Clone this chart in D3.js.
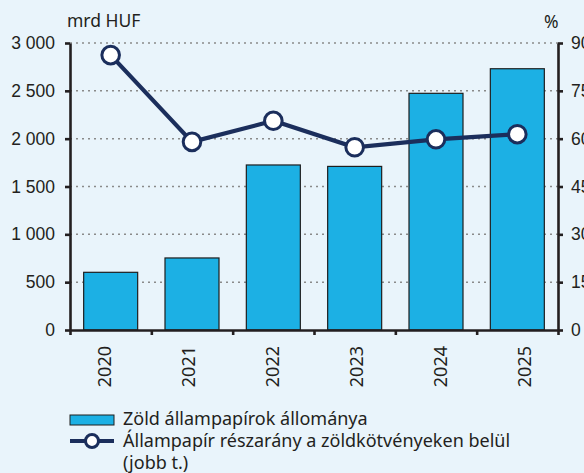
<!DOCTYPE html>
<html>
<head>
<meta charset="utf-8">
<script src="https://cdn.jsdelivr.net/npm/d3@7"></script>
<style>
  body { margin: 0; background: #e9f4fb; }
  svg { display: block; font-family: "Noto Sans", sans-serif; }
  .axis text { font-size: 17.5px; fill: #231f20; }
</style>
</head>
<body>
<div id="container"></div>
<script>
const width = 584;
const height = 473;

// data
const years = ["2020", "2021", "2022", "2023", "2024", "2025"];
const stock = [603, 753, 1725, 1710, 2474, 2731];      // mrd HUF, left axis
const share = [86.2, 59.0, 65.6, 57.3, 59.8, 61.4];    // %, right axis
const leftTicks = [0, 500, 1000, 1500, 2000, 2500, 3000];
const rightTicks = [0, 15, 30, 45, 60, 75, 90];
const legendLabels = ["Zöld állampapírok állománya",
  "Állampapír részarány a zöldkötvényeken belül", "(jobb t.)"];

const barColor = "#1cb0e4";
const lineColor = "#1b2e5c";
const axisColor = "#231f20";

const plot = { left: 70, right: 558, top: 43, bottom: 330 };

const huf = d3.formatLocale({ decimal: ",", thousands: "\u00a0", grouping: [3], currency: ["", ""] }).format(",");

const svg = d3.select("#container")
  .append("svg")
  .attr("width", width)
  .attr("height", height);

svg.append("rect")
  .attr("width", width)
  .attr("height", height)
  .attr("fill", "#e9f4fb");

// scales
const x = d3.scaleBand()
  .domain(years)
  .range([plot.left, plot.right])
  .paddingInner(0.336)
  .paddingOuter(0.168);
const yL = d3.scaleLinear().domain([0, 3000]).range([plot.bottom, plot.top]);
const yR = d3.scaleLinear().domain([0, 90]).range([plot.bottom, plot.top]);
const cx = d => x(d) + x.bandwidth() / 2;

// gridlines (behind bars)
svg.append("g")
  .selectAll("line")
  .data(leftTicks.filter(d => d > 0))
  .enter()
  .append("line")
  .attr("x1", plot.left)
  .attr("x2", plot.right)
  .attr("y1", d => yL(d))
  .attr("y2", d => yL(d))
  .attr("stroke", "#8a8a8a")
  .attr("stroke-width", 1.5)
  .attr("stroke-dasharray", "2,4");

// bars
svg.append("g")
  .selectAll("rect")
  .data(stock)
  .enter()
  .append("rect")
  .attr("x", (d, i) => x(years[i]))
  .attr("y", d => yL(d))
  .attr("width", x.bandwidth())
  .attr("height", d => yL(0) - yL(d))
  .attr("fill", barColor)
  .attr("stroke", "#1e1e1e")
  .attr("stroke-width", 1.2);

// line on right axis
const line = d3.line()
  .x((d, i) => cx(years[i]))
  .y(d => yR(d));

svg.append("path")
  .datum(share)
  .attr("d", line)
  .attr("fill", "none")
  .attr("stroke", lineColor)
  .attr("stroke-width", 4.2);

svg.append("g")
  .selectAll("circle")
  .data(share)
  .enter()
  .append("circle")
  .attr("cx", (d, i) => cx(years[i]))
  .attr("cy", d => yR(d))
  .attr("r", 8.8)
  .attr("fill", "#fff")
  .attr("stroke", lineColor)
  .attr("stroke-width", 3);

// left axis
const gLeft = svg.append("g")
  .attr("class", "axis")
  .attr("transform", "translate(" + plot.left + ",0)")
  .call(d3.axisLeft(yL).tickValues(leftTicks).tickSize(5).tickSizeOuter(0).tickPadding(10).tickFormat(huf));

// right axis
const gRight = svg.append("g")
  .attr("class", "axis")
  .attr("transform", "translate(" + plot.right + ",0)")
  .call(d3.axisRight(yR).tickValues(rightTicks).tickSize(5).tickSizeOuter(0).tickPadding(8));

// bottom axis: ticks at category boundaries
const bounds = d3.scaleLinear().domain([0, years.length]).range([plot.left, plot.right]);
const gBottom = svg.append("g")
  .attr("class", "axis")
  .attr("transform", "translate(0," + plot.bottom + ")")
  .call(d3.axisBottom(bounds).tickValues(d3.range(years.length + 1)).tickSize(5).tickSizeOuter(0).tickFormat(""));

[gLeft, gRight, gBottom].forEach(g => {
  g.select(".domain").attr("stroke", axisColor).attr("stroke-width", 2.6);
  g.selectAll(".tick line").attr("stroke", axisColor).attr("stroke-width", 2.6);
});

// year labels, rotated
const labelPos = d3.scalePoint()
  .domain(years)
  .range([cx(years[0]) - 7, cx(years[years.length - 1]) + 7]);

svg.append("g")
  .selectAll("text")
  .data(years)
  .enter()
  .append("text")
  .attr("transform", d => "translate(" + (labelPos(d) + 7) + "," + (plot.bottom + 16) + ") rotate(-90)")
  .attr("text-anchor", "end")
  .attr("font-size", "18px")
  .attr("fill", axisColor)
  .text(d => d);

// axis titles
svg.append("text")
  .attr("x", 67)
  .attr("y", 27)
  .attr("font-size", "17.5px")
  .attr("fill", axisColor)
  .text("mrd HUF");

svg.append("text")
  .attr("x", 544)
  .attr("y", 28)
  .attr("font-size", "17.5px")
  .attr("fill", axisColor)
  .text("%");

// legend
const legend = svg.append("g");
legend.append("rect")
  .attr("x", 70).attr("y", 415)
  .attr("width", 44).attr("height", 10)
  .attr("fill", barColor)
  .attr("stroke", "#1e1e1e")
  .attr("stroke-width", 1);
legend.append("line")
  .attr("x1", 70).attr("x2", 114)
  .attr("y1", 441).attr("y2", 441)
  .attr("stroke", lineColor)
  .attr("stroke-width", 4);
legend.append("circle")
  .attr("cx", 92).attr("cy", 441).attr("r", 6.5)
  .attr("fill", "#fff")
  .attr("stroke", lineColor)
  .attr("stroke-width", 3);
legend.selectAll("text.leg")
  .data(legendLabels)
  .enter()
  .append("text")
  .attr("class", "leg")
  .attr("x", 123)
  .attr("y", (d, i) => 425 + i * 22)
  .attr("font-size", "18px")
  .attr("fill", axisColor)
  .text(d => d);
</script>
</body>
</html>
